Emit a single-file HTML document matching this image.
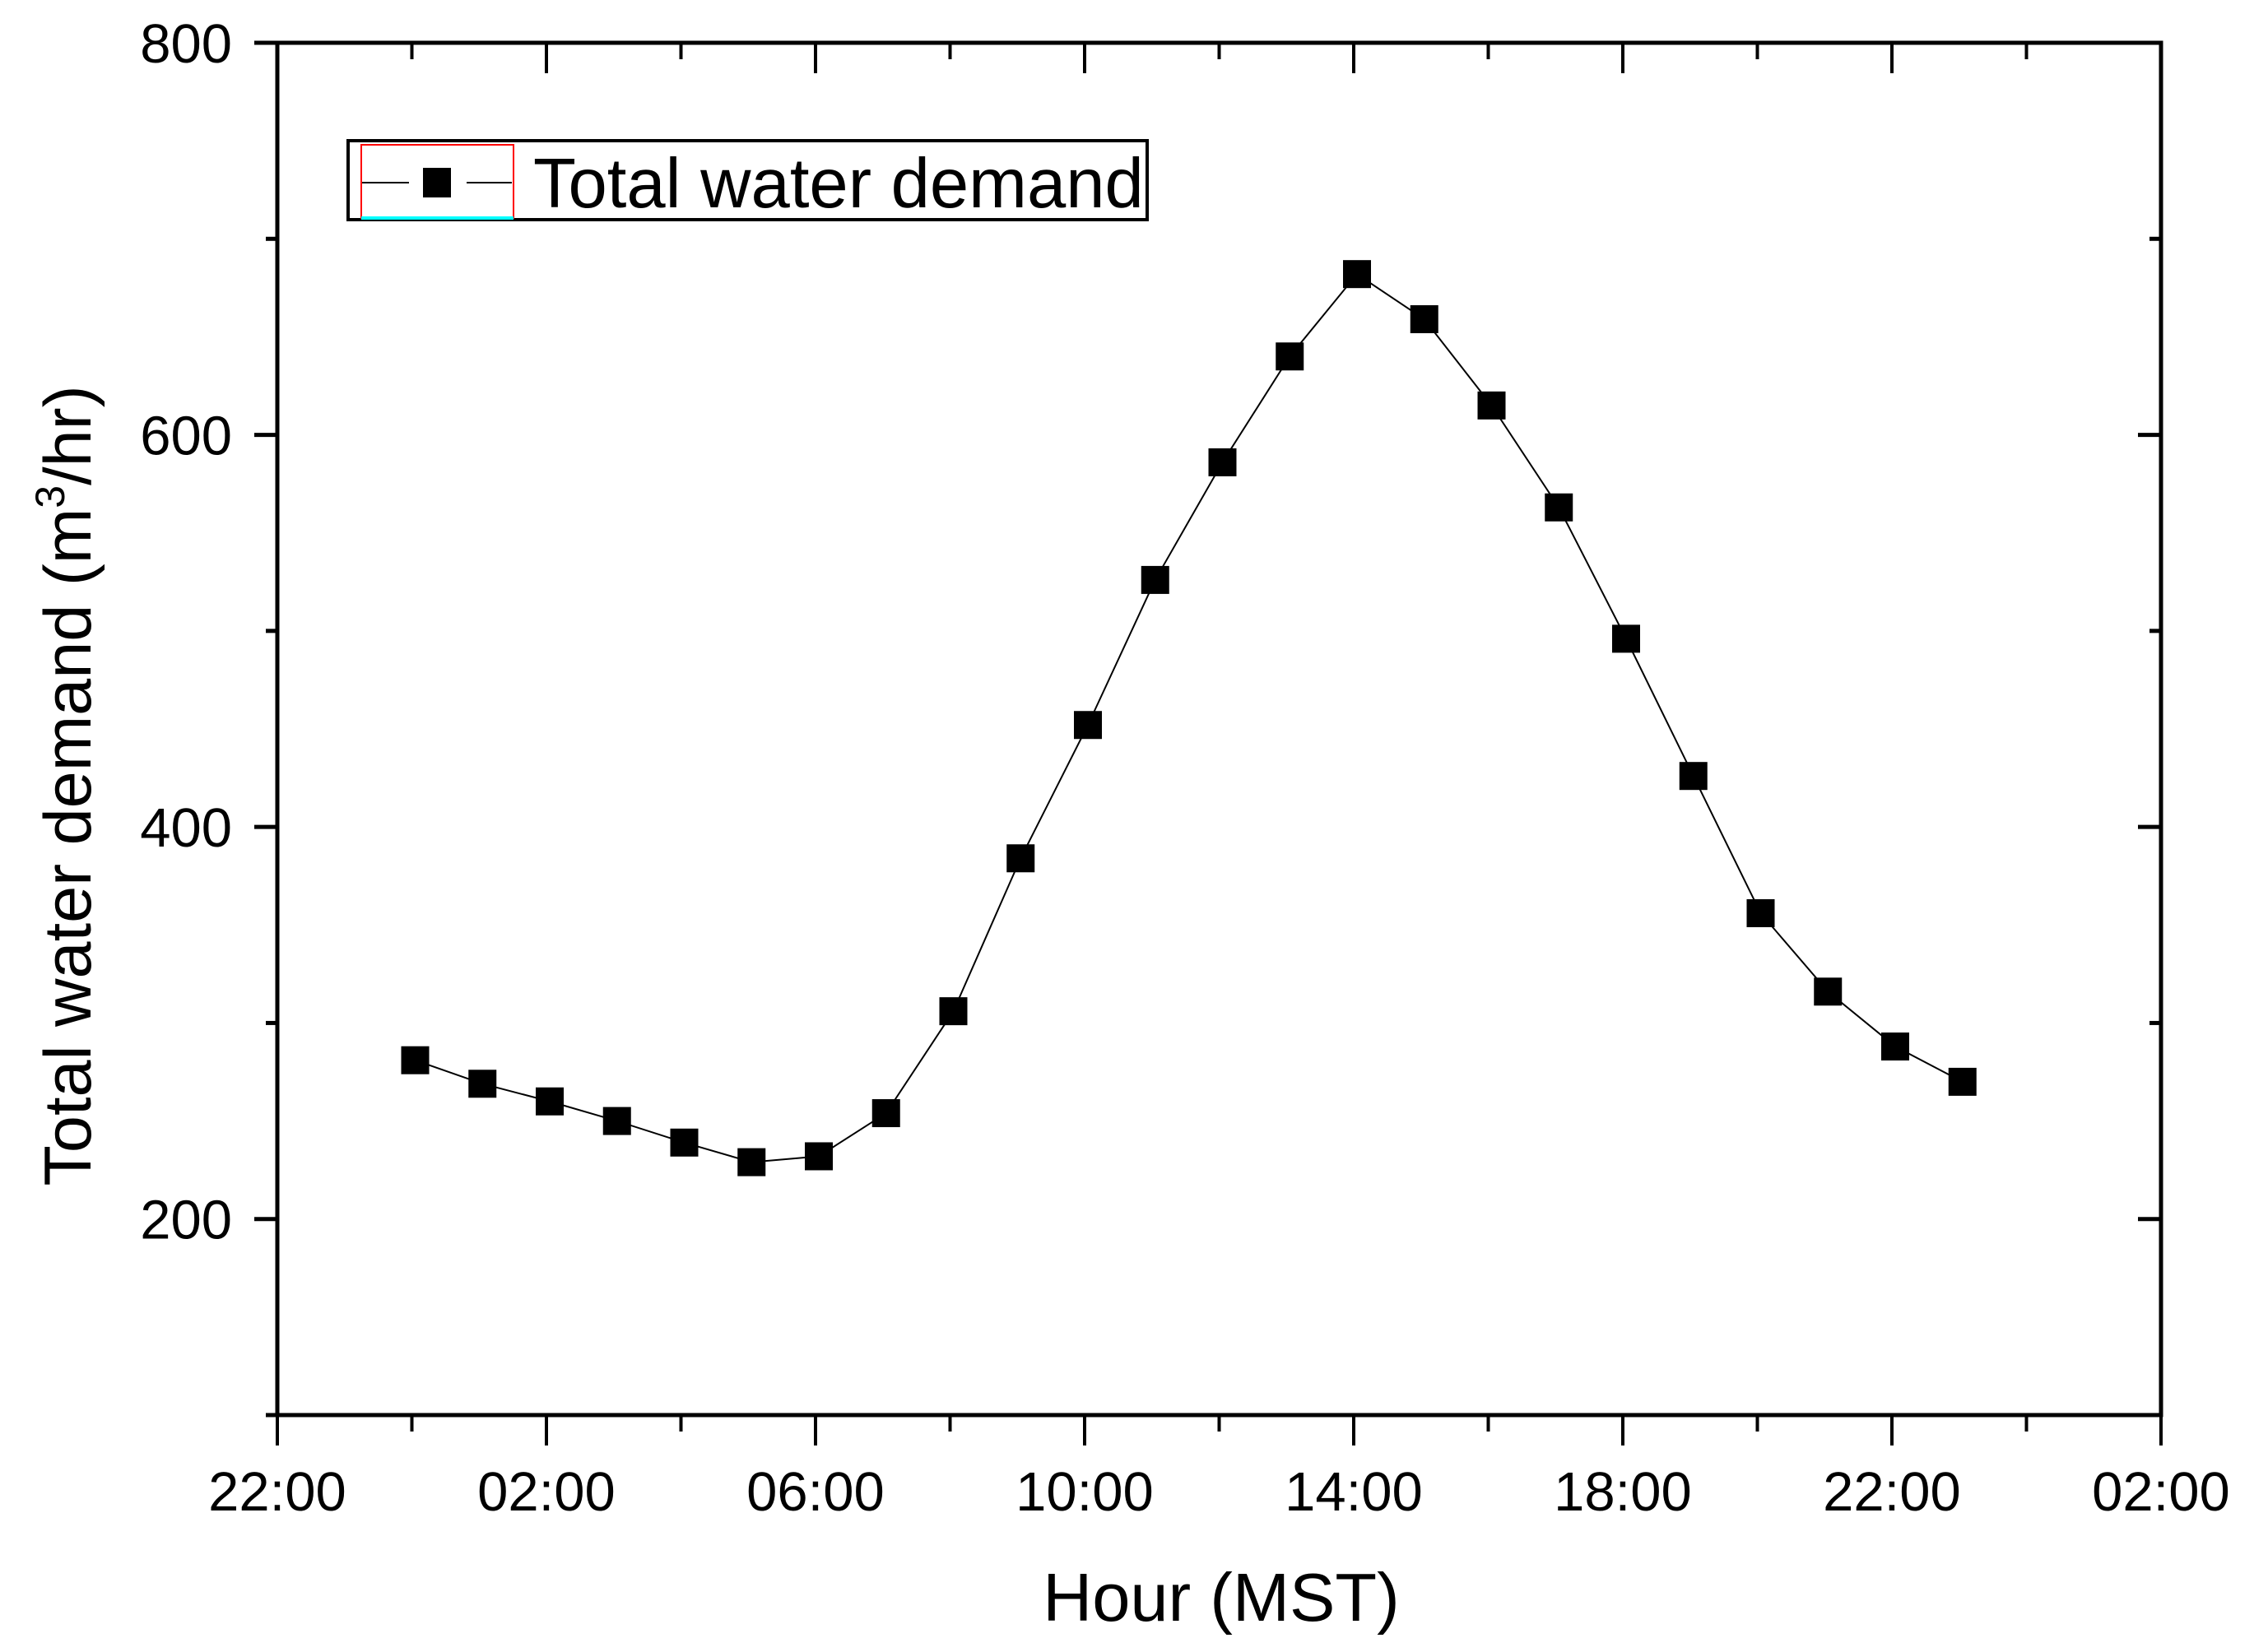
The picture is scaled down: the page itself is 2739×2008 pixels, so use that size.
<!DOCTYPE html>
<html><head><meta charset="utf-8"><style>
html,body{margin:0;padding:0;background:#fff;}
svg{display:block;font-family:"Liberation Sans",Arial,sans-serif;}
</style></head><body>
<svg id="chart" width="2739" height="2008" viewBox="0 0 2739 2008" xmlns="http://www.w3.org/2000/svg">
<rect width="2739" height="2008" fill="#fff"/>
<g id="axes"></g>
<g id="series"></g>
<g>
<rect x="423" y="171" width="971" height="96" fill="#fff" stroke="#000" stroke-width="4"/>
<rect x="439" y="176" width="185" height="89" fill="none" stroke="#f00" stroke-width="2"/>
<line x1="439" y1="265" x2="624" y2="265" stroke="#0ff" stroke-width="4"/>
<line x1="440" y1="222" x2="497" y2="222" stroke="#000" stroke-width="2"/>
<line x1="567" y1="222" x2="622" y2="222" stroke="#000" stroke-width="2"/>
<rect x="514" y="204" width="34" height="36" fill="#000"/>
<text x="648" y="252" font-size="85">Total water demand</text>
</g>
<text x="1484" y="1970" font-size="83" text-anchor="middle">Hour (MST)</text>
<text transform="translate(110,955) rotate(-90)" font-size="81" text-anchor="middle">Total water demand (m<tspan font-size="50" dy="-32">3</tspan><tspan dy="32">/hr)</tspan></text>
</svg>
<script>
const hours = [0,1,2,3,4,5,6,7,8,9,10,11,12,13,14,15,16,17,18,19,20,21,22,23];
const demand = [281,269,260,250,239,229,232,254,306,384,452,526,586,640,682,659,615,563,496,426,356,316,288,270];
const xTickHours = [-2,2,6,10,14,18,22,26];
const xTickLabels = ["22:00","02:00","06:00","10:00","14:00","18:00","22:00","02:00"];
const yTicks = [200,400,600,800];
const yTickLabels = ["200","400","600","800"];

const L=337,R=2626,T=52,B=1720;
const xMin=-2,xMax=26,yMin=100,yMax=800;
function xs(h){return L+(h-xMin)/(xMax-xMin)*(R-L);}
function ys(v){return B-(v-yMin)/(yMax-yMin)*(B-T);}
const NS="http://www.w3.org/2000/svg";
function mk(tag,attrs,parent){const e=document.createElementNS(NS,tag);for(const k in attrs)e.setAttribute(k,attrs[k]);parent.appendChild(e);return e;}
const ax=document.getElementById('axes');
const frame=mk('rect',{x:L,y:T,width:R-L,height:B-T,fill:'none',stroke:'#000','stroke-width':5},ax);


for(let h=xMin;h<=xMax;h+=2){
  const major=((h-xMin)%4===0);
  const len=major?37:20;
  const x=xs(h);
  const t1=mk('line',{x1:x,y1:B,x2:x,y2:B+len,stroke:'#000','stroke-width':4},ax);
  
  
  const t2=mk('line',{x1:x,y1:T,x2:x,y2:T+len,stroke:'#000','stroke-width':4},ax);
  
  
}
xTickHours.forEach((h,i)=>{
  const t=mk('text',{x:xs(h),y:1836,'font-size':67,'text-anchor':'middle'},ax);
  t.textContent=xTickLabels[i];
  
  
});
for(let v=yMin;v<=yMax;v+=100){
  const major=(v%200===0);
  const y=ys(v);
  const t1=mk('line',{x1:L,y1:y,x2:L-(major?28:14),y2:y,stroke:'#000','stroke-width':5},ax);
  
  
  const t2=mk('line',{x1:R,y1:y,x2:R-(major?28:14),y2:y,stroke:'#000','stroke-width':5},ax);
  
  
}
yTicks.forEach((v,i)=>{
  const t=mk('text',{x:282,y:ys(v)+24,'font-size':67,'text-anchor':'end'},ax);
  t.textContent=yTickLabels[i];
  
  
});
const OFF=4;
const sg=document.getElementById('series');
const pts=hours.map((h,i)=>(xs(h)+OFF)+','+ys(demand[i])).join(' ');
const pl=mk('polyline',{points:pts,fill:'none',stroke:'#000','stroke-width':2},sg);


hours.forEach((h,i)=>{
  const s=34;
  const r=mk('rect',{x:xs(h)+OFF-s/2,y:ys(demand[i])-s/2,width:s,height:s,fill:'#000'},sg);
  
  
});
</script>
</body></html>
